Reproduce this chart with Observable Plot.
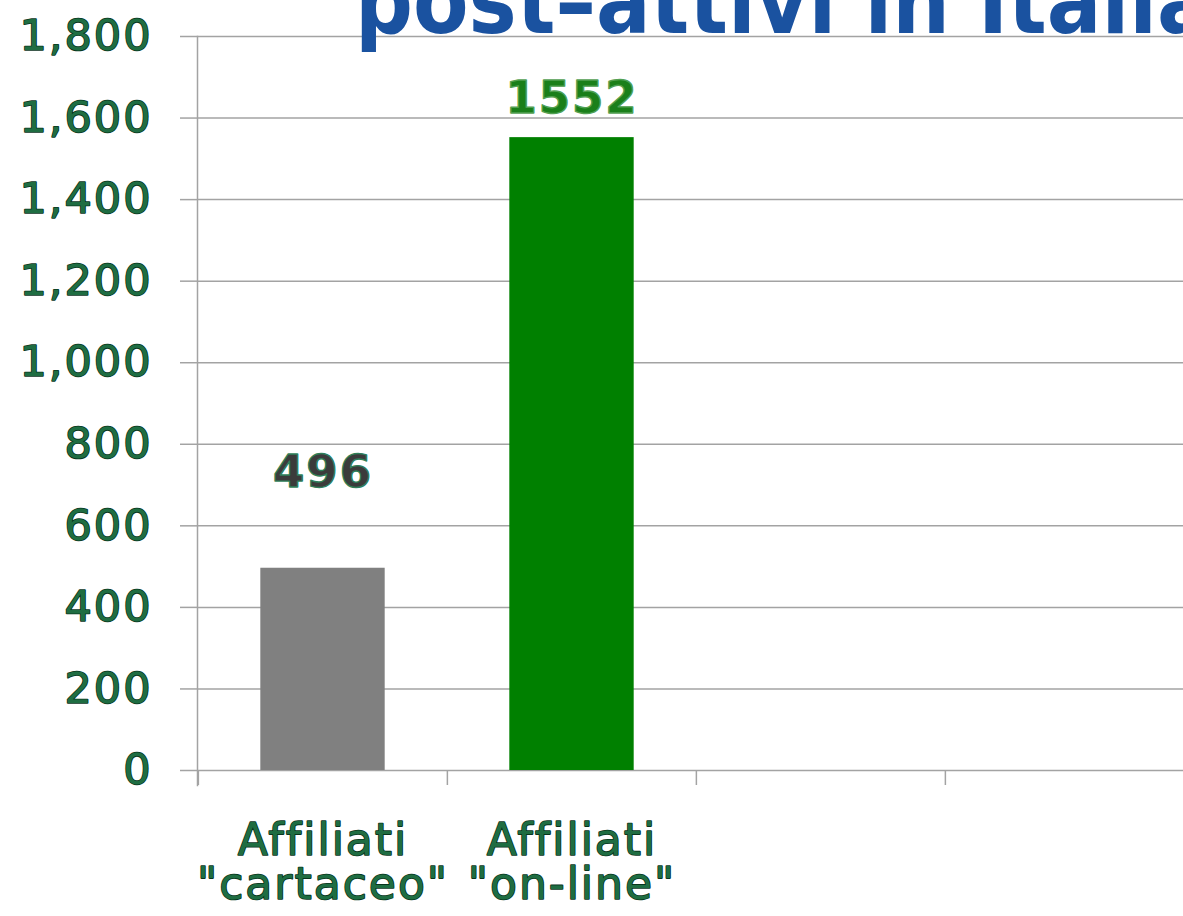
<!DOCTYPE html>
<html>
<head>
<meta charset="utf-8">
<script src="https://cdn.jsdelivr.net/npm/d3@7"></script>
<script src="https://cdn.jsdelivr.net/npm/@observablehq/plot@0.6"></script>
<style>
  html, body { margin: 0; padding: 0; background: #fff; overflow: hidden; width: 1183px; height: 916px; }
  #wrap { position: relative; width: 1183px; height: 916px; overflow: hidden; }
  #title {
    position: absolute; left: 355px; top: -43px; white-space: nowrap;
    font-family: "Liberation Sans Narrow", "DejaVu Sans Condensed", sans-serif;
    font-weight: bold; font-size: 90px; line-height: 90px; color: #1a52a0; z-index: 2;
  }
  #chart { position: absolute; left: 0; top: 0; }
</style>
</head>
<body>
<div id="wrap">
  <div id="chart"></div>
  <div id="title">post–attivi in Italia</div>
</div>
<script>
const categories = ["cartaceo", "on-line", "vuoto-3", "vuoto-4"];
const tickLabels = ['Affiliati\n"cartaceo"', 'Affiliati\n"on-line"', "", ""];
const values = [496, 1552];
const barColors = ["#808080", "#008000"];
const labelFills = ["#3b3b3b", "#1a7f1a"];
const labelStrokes = ["#2f7f5a", "#52a052"];
const yTicks = [0, 200, 400, 600, 800, 1000, 1200, 1400, 1600, 1800];

const data = values.map((v, i) => ({category: categories[i], value: v, fill: barColors[i], lf: labelFills[i], ls: labelStrokes[i]}));

const W = 1200, marginLeft = 197, marginRight = 6;
const half = (W - marginLeft - marginRight) / categories.length / 2;
const gridColor = "#a3a3a3";
const textGreen = "#1f6d42";
const textOutline = "#08341c";

const chart = Plot.plot({
  width: W,
  height: 916,
  marginLeft, marginRight,
  marginTop: 36,
  marginBottom: 146,
  style: {fontFamily: "'DejaVu Sans', Verdana, sans-serif", letterSpacing: "2px", background: "transparent", maxWidth: "none"},
  x: {type: "band", domain: categories, padding: 0, axis: null, label: null},
  y: {domain: [0, 1800], axis: null, label: null},
  marks: [
    Plot.gridY(yTicks, {stroke: gridColor, strokeOpacity: 1, strokeWidth: 1.5}),
    Plot.axisY(yTicks, {
      label: null,
      tickSize: 17, tickPadding: 28, stroke: gridColor, strokeWidth: 1.5,
      tickFormat: d3.format(","), fontSize: 43, fill: textGreen,
      textStroke: textOutline, textStrokeWidth: 1.6, textStrokeOpacity: 1
    }),
    Plot.frame({anchor: "left", stroke: gridColor, strokeWidth: 1.5, insetBottom: -15}),
    Plot.ruleX(categories, {x: d => d, y1: 0, y2: 0, insetBottom: -15, dx: -half, stroke: gridColor, strokeWidth: 1.5}),
    Plot.barY(data, {x: "category", y: "value", fill: "fill", insetLeft: half / 2, insetRight: half / 2}),
    Plot.text(data.slice(0, 1), {x: "category", y: "value", text: d => String(d.value), dy: -96,
      fontSize: 45, fontWeight: "bold", fill: "lf", stroke: "ls", strokeWidth: 1.4, paintOrder: "normal", lineAnchor: "middle"}),
    Plot.text(data.slice(1, 2), {x: "category", y: "value", text: d => String(d.value), dy: -39,
      fontSize: 45, fontWeight: "bold", fill: "lf", stroke: "ls", strokeWidth: 1.4, paintOrder: "normal", lineAnchor: "middle"}),
    Plot.axisX(categories, {
      label: null,
      tickSize: 0, tickPadding: 53, fontSize: 44, lineHeight: 1.0,
      tickFormat: (d) => tickLabels[categories.indexOf(d)],
      fill: textGreen, textStroke: textOutline, textStrokeWidth: 1.6, textStrokeOpacity: 1
    })
  ]
});
document.getElementById("chart").appendChild(chart);
</script>
</body>
</html>
